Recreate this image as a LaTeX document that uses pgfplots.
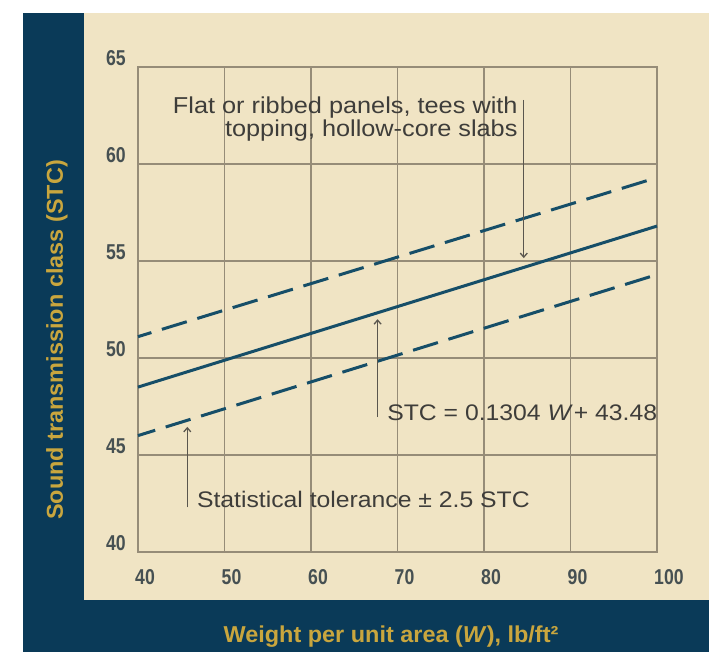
\documentclass[border=0pt]{standalone}
\usepackage{pgfplots}
\pgfplotsset{compat=1.18}
\usetikzlibrary{arrows.meta}
\usepackage{fontspec}
\setmainfont{Liberation Sans}
\newfontfamily\tickfont{Liberation Sans}[FakeStretch=0.82]
\newfontfamily\titlefont{Liberation Sans}[FakeStretch=1.02]
\newfontfamily\annfont{Liberation Sans}[FakeStretch=1.1]
\definecolor{navy}{RGB}{10,58,88}
\definecolor{beige}{RGB}{240,228,196}
\definecolor{gold}{RGB}{201,166,62}
\definecolor{linec}{RGB}{22,78,104}
\definecolor{gridc}{RGB}{150,140,120}
\definecolor{tickc}{RGB}{70,80,82}
\definecolor{textc}{RGB}{62,61,58}
\definecolor{annc}{RGB}{90,86,78}
\tikzset{
  annarrow/.style={annc, line width=1.3bp, -{Straight Barb[length=4bp,width=7bp]}},
  anntext/.style={text=textc, inner sep=0pt, font={\annfont\fontsize{22.5bp}{23bp}\selectfont}},
}
\begin{document}
\begin{tikzpicture}
\useasboundingbox (0bp,0bp) rectangle (709bp,652bp);
\fill[white] (0bp,0bp) rectangle (709bp,652bp);
\fill[navy] (23bp,0bp) rectangle (709bp,639bp);
\fill[beige] (84bp,52bp) rectangle (709bp,639bp);
\begin{axis}[
  at={(138bp,100bp)}, anchor=south west,
  width=519bp, height=485bp, scale only axis,
  xmin=40, xmax=100, ymin=40, ymax=65,
  xtick={40,50,...,100}, ytick={40,45,...,65},
  grid=major,
  major grid style={gridc, line width=1.2bp},
  axis line style={gridc, line width=1.2bp},
  major tick length=0pt,
  /pgf/number format/assume math mode=true,
  tick label style={font={\tickfont\bfseries\fontsize{21.5bp}{21.5bp}\selectfont}, text=tickc, inner sep=0pt},
  xticklabel style={anchor=west, xshift=-3bp, yshift=-25bp},
  yticklabel style={anchor=east, xshift=-12bp, yshift=9bp},
  clip=false,
]
\addplot[linec, line width=3bp] coordinates {(40,48.5) (100,56.8)};
\addplot[linec, line width=3bp, dash pattern=on 26bp off 11bp, dash phase=12bp] coordinates {(40,51.1) (100,59.3)};
\addplot[linec, line width=3bp, dash pattern=on 26bp off 11bp, dash phase=8bp] coordinates {(40,46.0) (100,54.3)};
\draw[annarrow] (axis cs:84.6,63.3) -- (axis cs:84.6,55.15);
\node[anntext, anchor=east, align=right, font={\annfont\fontsize{23bp}{23bp}\selectfont}] at (axis cs:83.9,62.3) {Flat or ribbed panels, tees with\\topping, hollow-core slabs};
\draw[annarrow] (axis cs:67.7,46.95) -- (axis cs:67.7,52.0);
\node[anntext, anchor=west] at (axis cs:68.8,47.2) {STC = 0.1304 \textit{W}\kern1bp+ 43.48};
\draw[annarrow] (axis cs:45.7,42.3) -- (axis cs:45.7,46.45);
\node[anntext, anchor=west] at (axis cs:46.8,42.7) {Statistical tolerance ± 2.5 STC};
\end{axis}
\node[text=gold, font={\titlefont\bfseries\fontsize{23bp}{23bp}\selectfont}] at (391bp,15bp) {Weight per unit area (\textit{W}), lb/ft²};
\node[text=gold, rotate=90, font={\titlefont\bfseries\fontsize{23bp}{23bp}\selectfont}] at (57bp,312bp) {Sound transmission class (STC)};
\end{tikzpicture}
\end{document}
